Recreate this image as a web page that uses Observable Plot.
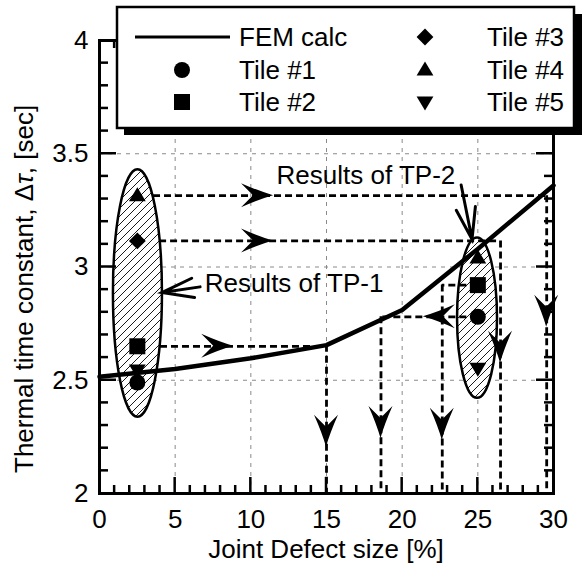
<!DOCTYPE html>
<html><head><meta charset="utf-8">
<script src="https://cdn.jsdelivr.net/npm/d3@7"></script>
<script src="https://cdn.jsdelivr.net/npm/@observablehq/plot@0.6"></script>
<style>body{margin:0;background:#fff;} svg{display:block}</style>
</head><body><div id="chart"></div>
<script>
// ---------- data ----------
const xDomain = [0, 30];
const yDomain = [2, 4];
const xTickLabels = [0, 5, 10, 15, 20, 25, 30];
const yTickLabels = [2, 2.5, 3, 3.5, 4];
const xMajorTicks = [5, 10, 15, 20, 25];
const xMinorTicks = [1,2,3,4,6,7,8,9,11,12,13,14,16,17,18,19,21,22,23,24,26,27,28,29];
const yMajorTicks = [2.5, 3, 3.5];
const yMinorTicks = [2.1,2.2,2.3,2.4,2.6,2.7,2.8,2.9,3.1,3.2,3.3,3.4,3.6,3.7,3.8,3.9];
const gridXValues = [5, 10, 15, 20, 25];
const gridYValues = [2.5, 3, 3.5];

const xTitle = "Joint Defect size [%]";
const yTitleParts = ["Thermal time constant, \u0394", "\u03c4", ", [sec]"];

// FEM calculation curve
const femX = [0, 5, 10, 15, 20, 25, 30];
const femY = [2.515, 2.55, 2.597, 2.655, 2.81, 3.08, 3.36];

// measured tiles at the two test points (TP-1, TP-2)
const testPointX = [2.5, 25];
const tile1Y = [2.49, 2.78];
const tile2Y = [2.65, 2.92];
const tile3Y = [3.115, null];
const tile4Y = [3.315, 3.04];
const tile5Y = [2.545, 2.553];

// dashed reading lines
const hLineY    = [3.315, 3.115, 2.65, 2.78, 2.92];
const hLineFrom = [3.57, 3.97, 4.03, 25, 25];
const hLineTo   = [29.55, 26.5, 15, 18.6, 22.65];
const vLineX    = [29.55, 26.5, 15, 18.6, 22.65];
const vLineFrom = [3.315, 3.115, 2.655, 2.78, 2.92];

// arrowheads on the reading lines (tip position + direction)
const arrowX   = [11.5, 11.5, 8.87, 21.4, 29.55, 26.5, 15, 18.6, 22.65];
const arrowY   = [3.315, 3.115, 2.65, 2.78, 2.734, 2.575, 2.204, 2.243, 2.235];
const arrowDir = ["right", "right", "right", "left", "down", "down", "down", "down", "down"];

// grouping ellipses
const ellCx = [2.54, 24.98];
const ellCy = [2.883, 2.774];
const ellRx = [1.62, 1.32];
const ellRy = [0.546, 0.354];

// annotations
const noteText = ["Results of TP-1", "Results of TP-2"];
const noteX = [6.95, 11.7];
const noteY = [2.925, 3.405];
const pointerTailX = [6.68, 23.93];
const pointerTailY = [2.91, 3.36];
const pointerTipX  = [4.16, 24.65];
const pointerTipY  = [2.885, 3.12];

// legend
const legendLabels = ["FEM calc", "Tile #1", "Tile #2", "Tile #3", "Tile #4", "Tile #5"];

// ---------- symbols ----------
const symCircle = {draw(c, size) { const r = Math.sqrt(size / Math.PI); c.moveTo(r, 0); c.arc(0, 0, r, 0, 2 * Math.PI); }};
const symSquare = {draw(c, size) { const r = Math.sqrt(size / Math.PI); c.rect(-r, -r, 2 * r, 2 * r); }};
const symDiamond = {draw(c, size) { const r = Math.sqrt(size / Math.PI) * 1.05; c.moveTo(0, -r); c.lineTo(r, 0); c.lineTo(0, r); c.lineTo(-r, 0); c.closePath(); }};
const symTriUp = {draw(c, size) { const r = Math.sqrt(size / Math.PI); c.moveTo(0, -r * 1.05); c.lineTo(r * 1.05, r * 0.7); c.lineTo(-r * 1.05, r * 0.7); c.closePath(); }};
const symTriDown = {draw(c, size) { const r = Math.sqrt(size / Math.PI); c.moveTo(0, r * 1.05); c.lineTo(r * 1.05, -r * 0.7); c.lineTo(-r * 1.05, -r * 0.7); c.closePath(); }};
const tileSymbols = [symCircle, symSquare, symDiamond, symTriUp, symTriDown];
const tileSeries = [tile1Y, tile2Y, tile3Y, tile4Y, tile5Y];

const FONT = "'Liberation Sans', Arial, Helvetica, sans-serif";
const FS = 26;

// ---------- custom render marks ----------
function ellipseMark(index, {x, y}) {
  const g = d3.create("svg:g");
  const pat = g.append("defs").append("pattern").attr("id", "hatch")
    .attr("patternUnits", "userSpaceOnUse").attr("width", 8).attr("height", 8);
  pat.append("path").attr("d", "M-2,2 L2,-2 M0,8 L8,0 M6,10 L10,6")
    .attr("stroke", "black").attr("stroke-width", 0.9);
  ellCx.forEach((cx, i) => {
    const px = x(cx), py = y(ellCy[i]);
    const rx = Math.abs(x(cx + ellRx[i]) - px), ry = Math.abs(y(ellCy[i] + ellRy[i]) - py);
    g.append("ellipse").attr("cx", px).attr("cy", py).attr("rx", rx).attr("ry", ry).attr("fill", "white");
    g.append("ellipse").attr("cx", px).attr("cy", py).attr("rx", rx).attr("ry", ry)
      .attr("fill", "url(#hatch)").attr("stroke", "black").attr("stroke-width", 2.5);
  });
  return g.node();
}

function arrowheadMark(index, {x, y}) {
  const g = d3.create("svg:g").attr("fill", "black");
  const rot = {right: 0, down: 90, left: 180, up: -90};
  arrowX.forEach((ax, i) => {
    g.append("path")
      .attr("d", "M0,0 Q-14,-4 -32,-12 L-20,0 L-32,12 Q-14,4 0,0 Z")
      .attr("transform", `translate(${x(ax)},${y(arrowY[i])}) rotate(${rot[arrowDir[i]]})`);
  });
  return g.node();
}

function pointerMark(index, {x, y}) {
  const g = d3.create("svg:g").attr("stroke", "black").attr("stroke-width", 3).attr("fill", "none").attr("stroke-linecap", "round");
  pointerTipX.forEach((tx, i) => {
    const x1 = x(tx), y1 = y(pointerTipY[i]);
    const x0 = x(pointerTailX[i]), y0 = y(pointerTailY[i]);
    const ang = Math.atan2(y0 - y1, x0 - x1);
    const L = 33, a = 0.3;
    g.append("path").attr("d",
      `M${x0},${y0} L${x1},${y1} M${x1 + L * Math.cos(ang - a)},${y1 + L * Math.sin(ang - a)} L${x1},${y1} L${x1 + L * Math.cos(ang + a)},${y1 + L * Math.sin(ang + a)}`);
  });
  return g.node();
}

function ticksMark(index, {x, y}, values, dims) {
  const g = d3.create("svg:g").attr("stroke", "black").attr("stroke-width", 2.5);
  const L = dims.marginLeft, R = dims.width - dims.marginRight;
  const T = dims.marginTop, B = dims.height - dims.marginBottom;
  const tx = (vals, len) => vals.forEach(v => {
    g.append("line").attr("x1", x(v)).attr("x2", x(v)).attr("y1", B).attr("y2", B - len);
    g.append("line").attr("x1", x(v)).attr("x2", x(v)).attr("y1", T).attr("y2", T + len);
  });
  const ty = (vals, len) => vals.forEach(v => {
    g.append("line").attr("y1", y(v)).attr("y2", y(v)).attr("x1", L).attr("x2", L + len);
    g.append("line").attr("y1", y(v)).attr("y2", y(v)).attr("x1", R).attr("x2", R - len);
  });
  tx(xMajorTicks, 16); tx(xMinorTicks, 8);
  ty(yMajorTicks, 17); ty(yMinorTicks, 9);
  return g.node();
}

function titlesMark(index, scales, values, dims) {
  const g = d3.create("svg:g").attr("font-family", FONT).attr("font-size", FS).attr("fill", "black");
  const L = dims.marginLeft, R = dims.width - dims.marginRight;
  const B = dims.height - dims.marginBottom;
  g.append("text").attr("x", (L + R) / 2).attr("y", B + 65).attr("text-anchor", "middle").text(xTitle);
  const t = g.append("text").attr("transform", `translate(${L - 66},${B - 20}) rotate(-90)`)
    .attr("text-anchor", "start");
  t.append("tspan").text(yTitleParts[0]);
  t.append("tspan").attr("font-style", "italic").text(yTitleParts[1]);
  t.append("tspan").text(yTitleParts[2]);
  return g.node();
}

function legendMark(index, scales, values, dims) {
  const g = d3.create("svg:g").attr("font-family", FONT).attr("font-size", FS).attr("text-anchor", "start");
  g.append("rect").attr("x", 124).attr("y", 14).attr("width", 458).attr("height", 121).attr("fill", "black");
  g.append("rect").attr("x", 117).attr("y", 7).attr("width", 457).attr("height", 121)
    .attr("fill", "white").attr("stroke", "black").attr("stroke-width", 2.5);
  const rows = [37, 70, 102];
  const keyX = [182, 425], textX = [239, 487];
  const syms = [null, symCircle, symSquare, symDiamond, symTriUp, symTriDown];
  legendLabels.forEach((lab, i) => {
    const col = Math.floor(i / 3), row = i % 3;
    const cy = rows[row];
    if (i === 0) {
      g.append("line").attr("x1", 135).attr("x2", 230).attr("y1", cy).attr("y2", cy).attr("stroke", "black").attr("stroke-width", 3);
    } else {
      g.append("path").attr("d", d3.symbol(syms[i], 64 * Math.PI)()).attr("transform", `translate(${keyX[col]},${cy})`).attr("fill", "black");
    }
    g.append("text").attr("x", textX[col]).attr("y", cy + 9).attr("text-anchor", "start").text(lab);
  });
  return g.node();
}

// ---------- plot ----------
const dotMarks = tileSeries.map((ser, k) => {
  const idx = testPointX.map((_, i) => i).filter(i => ser[i] != null);
  return Plot.dot(idx, {x: i => testPointX[i], y: i => ser[i], r: 8, symbol: tileSymbols[k], fill: "black", stroke: "none"});
});

const chart = Plot.plot({
  width: 587,
  height: 574,
  marginLeft: 99,
  marginRight: 34,
  marginTop: 40,
  marginBottom: 81,
  x: {domain: xDomain},
  y: {domain: yDomain},
  style: {fontFamily: FONT, fontSize: FS + "px", color: "black", background: "white", overflow: "visible"},
  marks: [
    Plot.gridX(gridXValues, {stroke: "#8a8a8a", strokeOpacity: 1, strokeWidth: 1, strokeDasharray: "4,5"}),
    Plot.gridY(gridYValues, {stroke: "#8a8a8a", strokeOpacity: 1, strokeWidth: 1, strokeDasharray: "4,5"}),
    ellipseMark,
    Plot.ruleY(hLineY.map((_, i) => i), {y: i => hLineY[i], x1: i => hLineFrom[i], x2: i => hLineTo[i], stroke: "black", strokeWidth: 2.8, strokeDasharray: "7,4"}),
    Plot.ruleX(vLineX.map((_, i) => i), {x: i => vLineX[i], y1: i => vLineFrom[i], y2: yDomain[0], stroke: "black", strokeWidth: 2.8, strokeDasharray: "7,4"}),
    ...dotMarks,
    Plot.line(femX.map((_, i) => i), {x: i => femX[i], y: i => femY[i], stroke: "black", strokeWidth: 4.5, strokeLinejoin: "round"}),
    arrowheadMark,
    pointerMark,
    Plot.text(noteText.map((_, i) => i), {x: i => noteX[i], y: i => noteY[i], text: i => noteText[i], textAnchor: "start", lineAnchor: "middle", fontSize: FS, fill: "black"}),
    Plot.frame({stroke: "black", strokeWidth: 3}),
    ticksMark,
    Plot.axisX(xTickLabels, {tickSize: 0, tickPadding: 16, label: null, tickFormat: d => String(d), fontSize: FS}),
    Plot.axisY(yTickLabels, {tickSize: 0, tickPadding: 11, label: null, tickFormat: d => String(d), fontSize: FS}),
    titlesMark,
    legendMark
  ]
});
document.getElementById("chart").appendChild(chart);
</script>
</body></html>
